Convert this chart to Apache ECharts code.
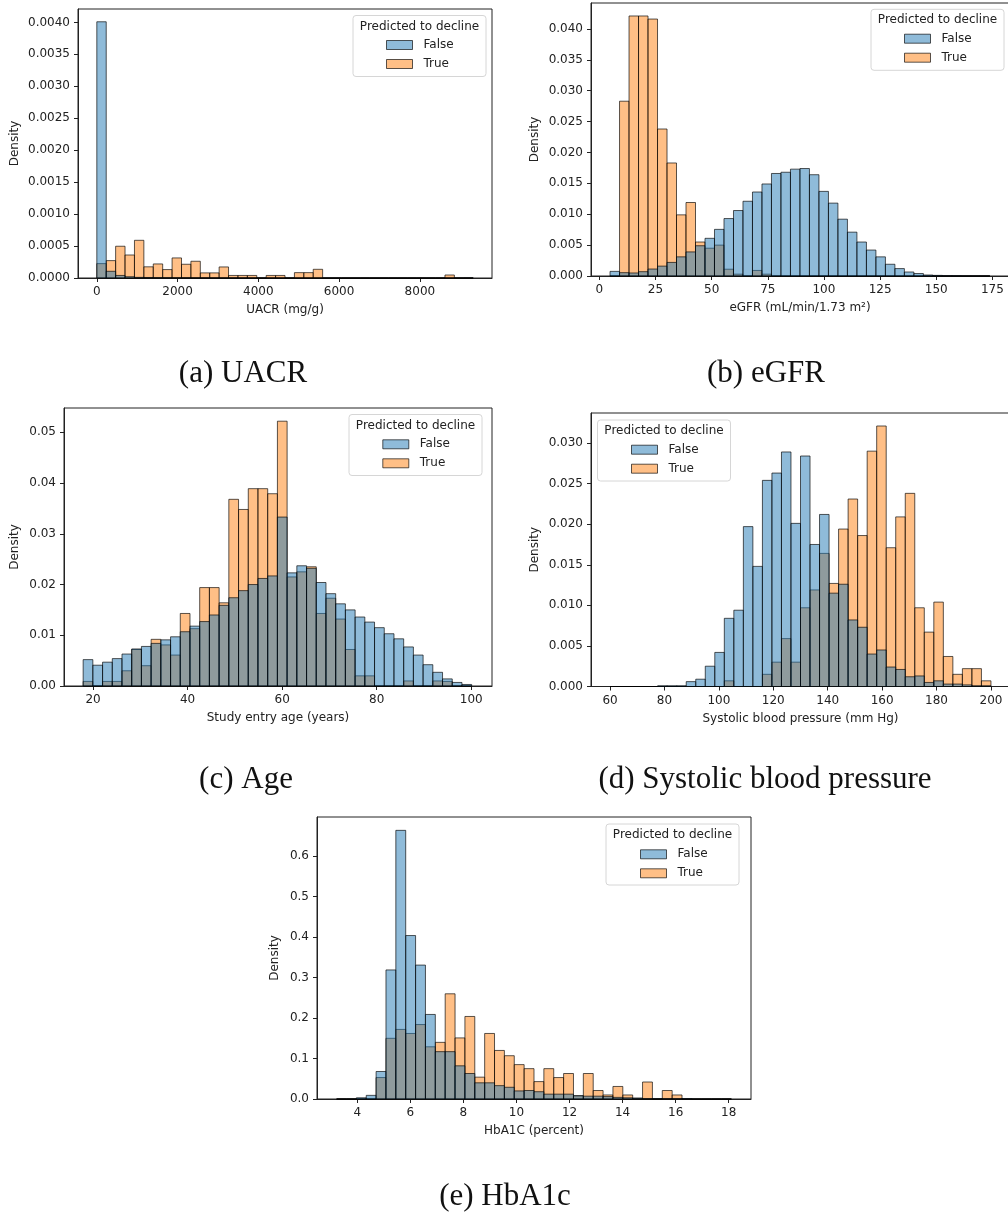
<!DOCTYPE html>
<html>
<head>
<meta charset="utf-8">
<script src="https://cdn.jsdelivr.net/npm/echarts@6/dist/echarts.min.js"></script>
<style>
  html, body { margin: 0; padding: 0; background: #fff; }
  #chart { width: 1008px; height: 1213px; }
</style>
</head>
<body>
<div id="chart"></div>
<script>
// ---- data (density per bin, 40 common bins per panel) ----
const uacrBinStart = 0;
const uacrBinWidth = 233;
const uacrFalse = [0.00401, 0.000105, 0.00004, 0.00002, 0.00001, 0.000008, 0.000006, 0.000005, 0.000004, 0.000004,
  0.000003, 0.000003, 0.000002, 0.000002, 0.000002, 0.000001, 0.000001, 0, 0, 0,
  0, 0, 0, 0, 0, 0, 0, 0, 0, 0,
  0, 0, 0, 0, 0, 0, 0, 0, 0, 0.000001];
const uacrTrue = [0.000225, 0.000272, 0.000497, 0.00036, 0.00059, 0.000175, 0.00022, 0.000132, 0.000314, 0.000215,
  0.000262, 0.00008, 0.00008, 0.000173, 0.00004, 0.00004, 0.00004, 0, 0.00004, 0.00004,
  0, 0.000084, 0.000084, 0.000136, 0, 0, 0, 0, 0, 0,
  0, 0, 0, 0, 0, 0, 0, 0.000047, 0, 0];
const uacrXTicks = [0, 2000, 4000, 6000, 8000];
const uacrYTicks = [0, 0.0005, 0.001, 0.0015, 0.002, 0.0025, 0.003, 0.0035, 0.004];

const egfrBinStart = 4.76;
const egfrBinWidth = 4.228;
const egfrFalse = [0.00075, 0.00054, 0.00049, 0.0007, 0.00113, 0.0016, 0.0022, 0.0031, 0.0039, 0.0049,
  0.0061, 0.00755, 0.0093, 0.0106, 0.0121, 0.0136, 0.0149, 0.0166, 0.0168, 0.0173,
  0.0174, 0.0164, 0.0137, 0.0118, 0.0092, 0.0071, 0.0055, 0.0042, 0.0031, 0.0019,
  0.0012, 0.00065, 0.0004, 0.00016, 0.0001, 0.00005, 0.00004, 0.00002, 0.00002, 0.00001];
const egfrTrue = [0, 0.0283, 0.0421, 0.0421, 0.0416, 0.0238, 0.0183, 0.0099, 0.0119, 0.0055,
  0.0045, 0.005, 0.0011, 0.0003, 0, 0.0009, 0.0003, 0, 0, 0,
  0, 0, 0, 0, 0, 0, 0, 0, 0, 0,
  0, 0, 0, 0, 0, 0, 0, 0, 0, 0];
const egfrXTicks = [0, 25, 50, 75, 100, 125, 150, 175];
const egfrYTicks = [0, 0.005, 0.01, 0.015, 0.02, 0.025, 0.03, 0.035, 0.04];

const ageBinStart = 17.9;
const ageBinWidth = 2.055;
const ageFalse = [0.0052, 0.0041, 0.0047, 0.0054, 0.0063, 0.0073, 0.0078, 0.0084, 0.0091, 0.0097,
  0.0107, 0.0118, 0.0127, 0.014, 0.0159, 0.0174, 0.0188, 0.020, 0.0212, 0.0217,
  0.0333, 0.0223, 0.0237, 0.0232, 0.0204, 0.0182, 0.0162, 0.015, 0.0136, 0.0126,
  0.0115, 0.0103, 0.0093, 0.0077, 0.0061, 0.0042, 0.0027, 0.0014, 0.0007, 0.0003];
const ageTrue = [0.0009, 0, 0.0009, 0.0009, 0.003, 0.0072, 0.004, 0.0092, 0.0081, 0.0061,
  0.0143, 0.0113, 0.0194, 0.0194, 0.0164, 0.0368, 0.0348, 0.0389, 0.0389, 0.0379,
  0.0522, 0.0215, 0.0225, 0.0235, 0.0143, 0.0173, 0.0132, 0.0072, 0.002, 0.002,
  0, 0, 0, 0.001, 0, 0, 0.001, 0.0009, 0, 0];
const ageXTicks = [20, 40, 60, 80, 100];
const ageYTicks = [0, 0.01, 0.02, 0.03, 0.04, 0.05];

const sbpBinStart = 60;
const sbpBinWidth = 3.5;
const sbpFalse = [0, 0, 0, 0, 0, 0.0001, 0.0001, 0.0001, 0.0006, 0.0009,
  0.0025, 0.0042, 0.0084, 0.0094, 0.0197, 0.0148, 0.0254, 0.0263, 0.0289, 0.0201,
  0.0284, 0.0175, 0.0212, 0.0115, 0.0126, 0.0082, 0.0073, 0.004, 0.0045, 0.0024,
  0.0021, 0.0012, 0.0013, 0.0005, 0.0007, 0.0003, 0.0003, 0.0002, 0.0001, 0.0001];
const sbpTrue = [0, 0, 0, 0, 0, 0, 0, 0, 0, 0,
  0, 0, 0.0007, 0, 0, 0, 0.0015, 0.003, 0.0059, 0.003,
  0.0097, 0.0119, 0.0164, 0.0127, 0.0194, 0.0231, 0.0186, 0.029, 0.0321, 0.0171,
  0.0209, 0.0238, 0.0097, 0.0067, 0.0104, 0.0037, 0.0015, 0.0022, 0.0022, 0.0007];
const sbpXTicks = [60, 80, 100, 120, 140, 160, 180, 200];
const sbpYTicks = [0, 0.005, 0.01, 0.015, 0.02, 0.025, 0.03];

const hbaBinStart = 3.22;
const hbaBinWidth = 0.372;
const hbaFalse = [0, 0, 0.003, 0.009, 0.068, 0.319, 0.664, 0.404, 0.331, 0.209,
  0.117, 0.117, 0.082, 0.063, 0.04, 0.04, 0.033, 0.029, 0.02, 0.021,
  0.018, 0.012, 0.012, 0.012, 0.008, 0.007, 0.007, 0.006, 0.004, 0.003,
  0.002, 0.001, 0.001, 0.001, 0.001, 0.001, 0, 0, 0, 0];
const hbaTrue = [0, 0, 0, 0, 0.053, 0.15, 0.172, 0.162, 0.184, 0.129,
  0.14, 0.26, 0.151, 0.204, 0.054, 0.162, 0.12, 0.107, 0.085, 0.075,
  0.043, 0.075, 0.053, 0.063, 0.008, 0.063, 0.021, 0.01, 0.031, 0.01,
  0.002, 0.042, 0, 0.021, 0.01, 0, 0, 0, 0, 0];
const hbaXTicks = [4, 6, 8, 10, 12, 14, 16, 18];
const hbaYTicks = [0, 0.1, 0.2, 0.3, 0.4, 0.5, 0.6];

// ---- styles ----
const FONT = "DejaVu Sans";
const TEXT = "#222";
const BLUE = "rgba(31,119,180,0.5)";
const ORANGE = "rgba(255,127,14,0.5)";
const EDGE = "rgba(0,0,0,0.65)";

// layout per panel
const panels = [
  {
    start: uacrBinStart, width: uacrBinWidth, f: uacrFalse, t: uacrTrue,
    xTicks: uacrXTicks, yTicks: uacrYTicks, yDec: 4, xMin: -466, xMax: 9786, yMax: 0.00421,
    xName: "UACR (mg/g)", yGap: 57,
    grid: { left: 78, top: 9, width: 414, height: 269 },
    legend: { box: [353, 15.5], patchLeft: 386, falseY: 45 },
    caption: { text: "(a) UACR", x: 243, y: 374 },
  },
  {
    start: egfrBinStart, width: egfrBinWidth, f: egfrFalse, t: egfrTrue,
    xTicks: egfrXTicks, yTicks: egfrYTicks, yDec: 3, xMin: -3.72, xMax: 182.4, yMax: 0.0442,
    xName: "eGFR (mL/min/1.73 m\u00b2)", yGap: 50,
    grid: { left: 591, top: 3, width: 418, height: 273 },
    legend: { box: [871, 9.3], patchLeft: 904, falseY: 38.7 },
    caption: { text: "(b) eGFR", x: 766, y: 374 },
  },
  {
    start: ageBinStart, width: ageBinWidth, f: ageFalse, t: ageTrue,
    xTicks: ageXTicks, yTicks: ageYTicks, yDec: 2, xMin: 13.85, xMax: 104.4, yMax: 0.0548,
    xName: "Study entry age (years)", yGap: 43,
    grid: { left: 64, top: 408, width: 428, height: 278 },
    legend: { box: [349, 414.5], patchLeft: 382.3, falseY: 444.3 },
    caption: { text: "(c) Age", x: 246, y: 780 },
  },
  {
    start: sbpBinStart, width: sbpBinWidth, f: sbpFalse, t: sbpTrue,
    xTicks: sbpXTicks, yTicks: sbpYTicks, yDec: 3, xMin: 53, xMax: 207, yMax: 0.0337,
    xName: "Systolic blood pressure (mm Hg)", yGap: 50,
    grid: { left: 591, top: 413, width: 419, height: 273.5 },
    legend: { box: [597.5, 420], patchLeft: 631, falseY: 449.7 },
    caption: { text: "(d) Systolic blood pressure", x: 765, y: 780 },
  },
  {
    start: hbaBinStart, width: hbaBinWidth, f: hbaFalse, t: hbaTrue,
    xTicks: hbaXTicks, yTicks: hbaYTicks, yDec: 1, xMin: 2.48, xMax: 18.84, yMax: 0.697,
    xName: "HbA1C (percent)", yGap: 36,
    grid: { left: 317, top: 817, width: 434, height: 282 },
    legend: { box: [606, 824], patchLeft: 640, falseY: 854.3 },
    caption: { text: "(e) HbA1c", x: 505, y: 1197 },
  },
];

function binData(start, width, vals) {
  return vals.map((v, i) => [start + i * width, start + (i + 1) * width, v]);
}

function barRenderer(fill) {
  return function (params, api) {
    const p0 = api.coord([api.value(0), api.value(2)]);
    const p1 = api.coord([api.value(1), 0]);
    return {
      type: "rect",
      shape: { x: p0[0], y: p0[1], width: p1[0] - p0[0], height: p1[1] - p0[1] },
      style: { fill: fill, stroke: EDGE, lineWidth: 1 },
    };
  };
}

const grids = [], xAxes = [], yAxes = [], series = [], legends = [], graphics = [];

panels.forEach((p, i) => {
  grids.push(Object.assign({
    show: true, borderColor: TEXT, borderWidth: 1, backgroundColor: "transparent",
    containLabel: false, outerBoundsMode: "none",
  }, p.grid));

  xAxes.push({
    type: "value", gridIndex: i, min: p.xMin, max: p.xMax,
    name: p.xName, nameLocation: "middle", nameGap: 26,
    nameTextStyle: { fontFamily: FONT, fontSize: 12, color: TEXT },
    axisLine: { show: true, onZero: false, lineStyle: { color: TEXT, width: 1 } },
    axisTick: { show: true, inside: false, length: 4, customValues: p.xTicks, lineStyle: { color: TEXT } },
    axisLabel: { customValues: p.xTicks, margin: 8, fontFamily: FONT, fontSize: 12, color: TEXT,
      formatter: (v) => String(Math.round(v)) },
    splitLine: { show: false },
  });

  yAxes.push({
    type: "value", gridIndex: i, min: 0, max: p.yMax,
    name: "Density", nameLocation: "middle", nameGap: p.yGap,
    nameTextStyle: { fontFamily: FONT, fontSize: 12, color: TEXT },
    axisLine: { show: true, onZero: false, lineStyle: { color: TEXT, width: 1 } },
    axisTick: { show: true, inside: false, length: 4, customValues: p.yTicks, lineStyle: { color: TEXT } },
    axisLabel: { customValues: p.yTicks, margin: 8, fontFamily: FONT, fontSize: 12, color: TEXT,
      formatter: (v) => v.toFixed(p.yDec) },
    splitLine: { show: false },
  });

  // True drawn first, False on top (so overlaps read grey)
  series.push({
    type: "custom", name: "True", xAxisIndex: i, yAxisIndex: i, silent: true,
    itemStyle: { color: ORANGE },
    renderItem: barRenderer(ORANGE),
    encode: { x: [0, 1], y: 2 },
    data: binData(p.start, p.width, p.t),
  });
  series.push({
    type: "custom", name: "False", xAxisIndex: i, yAxisIndex: i, silent: true,
    itemStyle: { color: BLUE },
    renderItem: barRenderer(BLUE),
    encode: { x: [0, 1], y: 2 },
    data: binData(p.start, p.width, p.f),
  });

  // legend box + title
  graphics.push({
    type: "rect", z: 10,
    shape: { x: p.legend.box[0], y: p.legend.box[1], width: 133, height: 61, r: 3 },
    style: { fill: "rgba(255,255,255,0.85)", stroke: "#d6d6d6", lineWidth: 1 },
  });
  graphics.push({
    type: "text", z: 11,
    x: p.legend.box[0] + 66.5, y: p.legend.box[1] + 11,
    style: { text: "Predicted to decline", fontFamily: FONT, fontSize: 12, fill: TEXT,
      align: "center", verticalAlign: "middle" },
  });
  legends.push({
    orient: "vertical", left: p.legend.patchLeft, top: p.legend.falseY - 6, padding: 0,
    itemWidth: 26, itemHeight: 9, itemGap: 7, selectedMode: false, z: 12,
    textStyle: { fontFamily: FONT, fontSize: 12, color: TEXT, padding: [0, 0, 0, 6] },
    data: [
      { name: "False", icon: "rect", itemStyle: { color: BLUE, borderColor: EDGE, borderWidth: 1 } },
      { name: "True", icon: "rect", itemStyle: { color: ORANGE, borderColor: EDGE, borderWidth: 1 } },
    ],
  });

  // sub-figure caption
  graphics.push({
    type: "text", x: p.caption.x, y: p.caption.y,
    style: { text: p.caption.text, fontFamily: "Liberation Serif", fontSize: 31, fill: "#111",
      align: "center", verticalAlign: "middle" },
  });
});

const chart = echarts.init(document.getElementById("chart"), null, { renderer: "canvas" });
chart.setOption({
  animation: false,
  backgroundColor: "#fff",
  grid: grids,
  xAxis: xAxes,
  yAxis: yAxes,
  legend: legends,
  series: series,
  graphic: graphics,
});
</script>
</body>
</html>
